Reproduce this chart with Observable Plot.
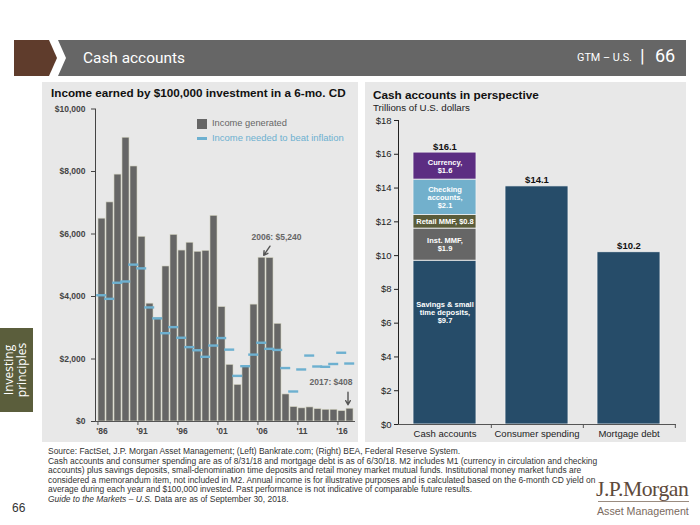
<!DOCTYPE html>
<html><head><meta charset="utf-8">
<script src="https://cdn.jsdelivr.net/npm/d3@7"></script>
<script src="https://cdn.jsdelivr.net/npm/@observablehq/plot@0.6"></script>
<style>
html,body{margin:0;padding:0}
body{width:700px;height:525px;position:relative;background:#fff;overflow:hidden;font-family:"Liberation Sans",Arial,sans-serif}
.abs{position:absolute;white-space:nowrap}
.panel{background:#e8e8e8}
.fit{display:inline-block}
#footer{left:48px;top:447px;font-size:8.6px;line-height:9.6px;color:#333;font-family:"Liberation Sans Narrow","Arial Narrow","Liberation Sans",sans-serif}
#footer div{white-space:nowrap}
</style></head><body>

<svg class="abs" style="left:0;top:0" width="700" height="80">
  <polygon points="14,40 49,40 57,58 49,76 14,76" fill="#5f3c2c"/>
  <polygon points="58,40 686,40 686,76 58,76 66,58" fill="#666666"/>
</svg>
<div class="abs" style="left:83px;top:46px;font-family:Roboto,'Open Sans',sans-serif;font-size:18px;color:#fff;"><span class="fit" id="bannerTitle">Cash accounts</span></div>
<div class="abs" style="left:577px;top:49px;font-family:Roboto,'Open Sans',sans-serif;font-size:13px;color:#fff;"><span class="fit" id="gtm">GTM – U.S.</span></div>
<div class="abs" style="left:640px;top:44px;font-family:Roboto,'Open Sans',sans-serif;font-size:19px;color:#fff;">|</div>
<div class="abs" style="left:655px;top:45px;font-family:Roboto,'Open Sans',sans-serif;font-size:18px;color:#fff;">66</div>

<div class="abs" style="left:0;top:328px;width:33px;height:84px;background:#5b5e3c"></div>
<div class="abs" style="left:-25px;top:355px;width:84px;height:30px;transform:rotate(-90deg);transform-origin:50% 50%;color:#fff;font-family:'Open Sans',sans-serif;font-size:12px;line-height:13px;text-align:center;white-space:normal">Investing principles</div>

<div class="abs panel" style="left:42px;top:82px;width:316px;height:360px"></div>
<div class="abs panel" style="left:365px;top:82px;width:321px;height:360px"></div>

<div class="abs" style="left:51px;top:86px;font-weight:bold;font-size:11.5px;color:#111"><span class="fit" id="leftTitle">Income earned by $100,000 investment in a 6-mo. CD</span></div>
<div class="abs" style="left:373px;top:87px;font-weight:bold;font-size:13px;color:#111"><span class="fit" id="rightTitle">Cash accounts in perspective</span></div>
<div class="abs" style="left:373px;top:101px;font-size:11px;color:#222"><span class="fit" id="rightSub">Trillions of U.S. dollars</span></div>

<div id="leftChart" class="abs" style="left:42px;top:100px"></div>
<div id="rightChart" class="abs" style="left:365px;top:112px"></div>

<div class="abs" style="left:197px;top:119px;width:10px;height:10px;background:#666"></div>
<div class="abs" style="left:212px;top:118px;font-size:9px;color:#666"><span class="fit" id="lg1">Income generated</span></div>
<div class="abs" style="left:197px;top:137px;width:10px;height:2.5px;background:#6db0d0"></div>
<div class="abs" style="left:212px;top:132px;font-size:9px;color:#6db0d0"><span class="fit" id="lg2">Income needed to beat inflation</span></div>

<div id="footer" class="abs">
<div id="fl2ref">Source: FactSet, J.P. Morgan Asset Management; (Left) Bankrate.com; (Right) BEA, Federal Reserve System.</div>
<div id="fl2">Cash accounts and consumer spending are as of 8/31/18 and mortgage debt is as of 6/30/18. M2 includes M1 (currency in circulation and checking</div>
<div>accounts) plus savings deposits, small-denomination time deposits and retail money market mutual funds. Institutional money market funds are</div>
<div>considered a memorandum item, not included in M2. Annual income is for illustrative purposes and is calculated based on the 6-month CD yield on</div>
<div>average during each year and $100,000 invested. Past performance is not indicative of comparable future results.</div>
<div><i>Guide to the Markets – U.S.</i> Data are as of September 30, 2018.</div>
</div>
<div class="abs" style="left:12px;top:501px;font-size:12px;color:#333">66</div>
<div class="abs" style="left:596px;top:474px;font-family:'Liberation Serif','DejaVu Serif',serif;font-size:25px;color:#5e4a3c;letter-spacing:-0.5px"><span class="fit" id="jpm">J.P.Morgan</span></div>
<div class="abs" style="left:598px;top:501px;width:91px;height:1px;background:#9a8c80"></div>
<div class="abs" style="left:597px;top:504px;font-family:'Liberation Sans Narrow','Liberation Sans',sans-serif;font-size:12px;color:#7a6a5e"><span class="fit" id="am">Asset Management</span></div>

<script>
// ---------- Data: left chart ----------
const years = [1986,1987,1988,1989,1990,1991,1992,1993,1994,1995,1996,1997,1998,1999,2000,2001,2002,2003,2004,2005,2006,2007,2008,2009,2010,2011,2012,2013,2014,2015,2016,2017];
const incomeGenerated = [6490,7010,7900,9080,8160,5910,3770,3310,4960,5970,5470,5720,5430,5460,6580,3660,1810,1170,1740,3740,5240,5230,3125,865,460,420,450,395,375,375,330,408];
const incomeToBeatInflation = [4040,3925,4440,4480,5020,4900,3650,3300,2825,3020,2680,2380,2280,2070,2430,2670,2300,1460,1770,2140,2520,2325,2290,1710,960,1665,2110,1760,1750,1840,2200,1855];
const xTickYears = [1986,1991,1996,2001,2006,2011,2016];
const yTicksLeft = [0,2000,4000,6000,8000,10000];
const annotationYears = [2006, 2017];
const annotationLabels = ["2006: $5,240", "2017: $408"];

// ---------- Data: right chart ----------
const categories = ["Cash accounts", "Consumer spending", "Mortgage debt"];
const cashComponents = ["Savings & small time deposits", "Inst. MMF", "Retail MMF", "Checking accounts", "Currency"];
const cashValues = [9.7, 1.9, 0.8, 2.1, 1.6];
const cashLabels = ["Savings & small\ntime deposits,\n$9.7", "Inst. MMF,\n$1.9", "Retail MMF, $0.8", "Checking\naccounts,\n$2.1", "Currency,\n$1.6"];
const componentColors = ["#264c69", "#666666", "#5a5c3a", "#72b0cc", "#5c2d82"];
const otherValues = [14.1, 10.2];
const totals = [16.1, 14.1, 10.2];
const yTicksRight = [0,2,4,6,8,10,12,14,16,18];

// ---------- Left chart ----------
const incomeRows = years.map((y, i) => ({year: y, income: incomeGenerated[i], inflation: incomeToBeatInflation[i]}));
const annRows = annotationYears.map((y, i) => ({year: y, value: incomeGenerated[years.indexOf(y)], label: annotationLabels[i]}));

const LW = 316, LML = 53, LMR = 3;
const lStep = (LW - LML - LMR) / years.length;
const axisFont = "'Liberation Sans', Arial, sans-serif";

const left = Plot.plot({
  width: LW, height: 340,
  marginTop: 8.5, marginBottom: 19, marginLeft: LML, marginRight: LMR,
  style: {background: "transparent", fontFamily: axisFont, fontSize: "8.5px", color: "#444", fontWeight: "bold"},
  x: {type: "band", domain: years, paddingInner: 0.14, paddingOuter: 0.07, ticks: xTickYears,
      tickFormat: d => "'" + String(d).slice(2), tickSize: 0, tickPadding: 6, label: null},
  y: {domain: [0, 10000], ticks: yTicksLeft, tickFormat: d => "$" + d3.format(",")(d), tickSize: 4, tickPadding: 6, line: true, label: null},
  marks: [
    Plot.barY(incomeRows, {x: "year", y: "income", fill: "#666666", stroke: "#d2d2c0", strokeWidth: 0.6}),
    Plot.tickY(incomeRows, {x: "year", y: "inflation", stroke: "#6db0d0", strokeWidth: 2.4, insetLeft: -1.8, insetRight: -1.2}),
    Plot.ruleY([0], {stroke: "#555"}),
    Plot.ruleX(xTickYears, {x: d => d, y1: 0, y2: 0, insetBottom: -4, dx: -lStep / 2, stroke: "#555"}),
    Plot.text([annRows[0]], {x: "year", y: "value", text: "label", dx: 14.5, dy: -20, fill: "#666", fontWeight: "bold", fontSize: 8.5}),
    Plot.text([annRows[1]], {x: "year", y: "value", text: "label", dx: -19, dy: -26, fill: "#666", fontWeight: "bold", fontSize: 8.5}),
    Plot.arrow([annRows[0]], {x1: d => d.year + 1, x2: "year", y1: d => d.value + 370, y2: "value", insetEnd: 3, stroke: "#555", strokeWidth: 1.4, headLength: 5}),
    Plot.arrow([annRows[1]], {x1: "year", x2: "year", y1: d => d.value + 530, y2: "value", insetEnd: 4, dx: -2, stroke: "#555", strokeWidth: 1.4, headLength: 5})
  ]
});
document.getElementById("leftChart").append(left);

// ---------- Right chart ----------
const rightRows = [
  ...cashComponents.map((p, i) => ({category: categories[0], part: p, value: cashValues[i], label: cashLabels[i]})),
  ...otherValues.map((v, i) => ({category: categories[i + 1], part: cashComponents[0], value: v, label: null}))
];
const totalRows = categories.map((c, i) => ({category: c, total: totals[i]}));
const RW = 321, RML = 33, RMR = 10;
const rStep = (RW - RML - RMR) / categories.length;

const right = Plot.plot({
  width: RW, height: 333,
  marginTop: 8, marginBottom: 21, marginLeft: RML, marginRight: RMR,
  style: {background: "transparent", fontFamily: axisFont, fontSize: "9.5px", color: "#222"},
  x: {domain: categories, paddingInner: 0.31, paddingOuter: 0.155, tickSize: 0, tickPadding: 6, label: null},
  y: {domain: [0, 18], ticks: yTicksRight, tickFormat: d => "$" + d, tickSize: 4, tickPadding: 3, line: true, label: null},
  color: {domain: cashComponents, range: componentColors},
  marks: [
    Plot.barY(rightRows, {x: "category", y: "value", fill: "part", stroke: "#f2f2f2", strokeWidth: 0.8}),
    Plot.text(rightRows.slice(0, 1), Plot.stackY({x: "category", y: "value", text: "label", dy: -30, fill: "#fff", fontWeight: "bold", fontSize: 7.5, lineHeight: 1.1})),
    Plot.text(rightRows, Plot.stackY({x: "category", y: "value", text: (d, i) => i === 0 ? null : d.label, fill: "#fff", fontWeight: "bold", fontSize: 7.5, lineHeight: 1.08})),
    Plot.text(totalRows, {x: "category", y: "total", text: d => "$" + d.total.toFixed(1), dy: -3, lineAnchor: "bottom", fontWeight: "bold", fontSize: 9.5, fill: "#111"}),
    Plot.ruleY([0], {stroke: "#555"}),
    Plot.ruleX(categories, {x: d => d, y1: 0, y2: 0, insetBottom: -4, dx: rStep / 2, stroke: "#555"})
  ]
});
document.getElementById("rightChart").append(right);

// ---------- fit text widths ----------
function fit(id, target) {
  const el = document.getElementById(id);
  const w = el.getBoundingClientRect().width;
  const fs = parseFloat(getComputedStyle(el).fontSize);
  el.style.fontSize = (fs * target / w) + "px";
}
fit("bannerTitle", 102); fit("gtm", 55);
fit("leftTitle", 295); fit("rightTitle", 166); fit("rightSub", 97);
fit("lg1", 75); fit("lg2", 132);
fit("jpm", 93); fit("am", 92);
(function(){
  const f = document.getElementById("footer");
  const l2 = document.getElementById("fl2");
  const s = document.createElement("span"); s.textContent = l2.textContent; s.style.whiteSpace = "nowrap";
  l2.textContent = ""; l2.append(s);
  const w = s.getBoundingClientRect().width;
  const fs = parseFloat(getComputedStyle(f).fontSize);
  f.style.fontSize = (fs * 549 / w) + "px";
})();
</script>
</body></html>
